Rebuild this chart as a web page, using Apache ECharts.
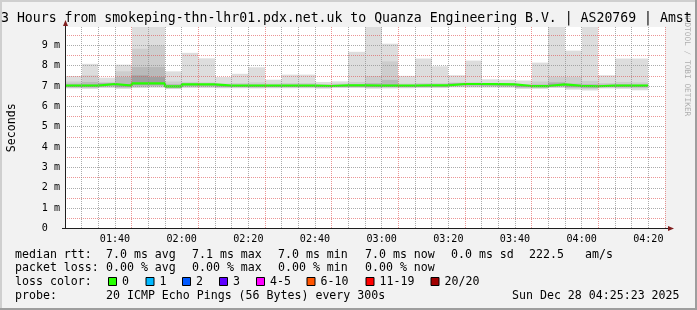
<!DOCTYPE html>
<html><head><meta charset="utf-8">
<script src="https://cdn.jsdelivr.net/npm/echarts@6/dist/echarts.min.js"></script>
<style>html,body{margin:0;padding:0;background:#f2f2f2}#c{width:697px;height:310px}</style>
</head><body><div id="c"></div>
<script>
// ---- data (ms), one value per 5-minute slot ----
const slotTimes = ['01:25','01:30','01:35','01:40','01:45','01:50','01:55','02:00','02:05','02:10','02:15','02:20',
  '02:25','02:30','02:35','02:40','02:45','02:50','02:55','03:00','03:05','03:10','03:15','03:20',
  '03:25','03:30','03:35','03:40','03:45','03:50','03:55','04:00','04:05','04:10','04:15'];
const slotMinutes = 5;
const pingMax = [7.49,8.09,7.41,8.05,11.5,11.5,7.72,8.63,8.36,7.44,7.60,7.92,7.31,7.56,7.56,7.20,7.23,8.68,11.0,9.08,7.50,8.35,7.97,7.53,8.25,7.33,7.31,7.27,8.15,11.0,8.74,11.0,7.53,8.35,8.35];
const pingHi2 = [7.22,7.52,7.20,7.72,8.83,8.99,7.22,7.20,7.18,7.12,7.15,7.18,7.12,7.15,7.15,7.10,7.12,7.20,7.49,8.21,7.12,7.15,7.15,7.18,7.18,7.15,7.15,7.10,7.22,7.45,7.44,7.25,7.15,7.20,7.18];
const pingHi3 = [7.12,7.20,7.15,7.44,7.93,7.93,7.10,7.14,7.12,7.06,7.08,7.08,7.06,7.08,7.08,7.05,7.07,7.10,7.15,7.30,7.06,7.08,7.08,7.14,7.14,7.12,7.12,7.04,7.08,7.20,7.12,7.10,7.08,7.10,7.08];
const pingHi4 = [7.06,7.08,7.12,7.10,7.52,7.44,7.02,7.10,7.10,7.04,7.04,7.05,7.04,7.04,7.04,7.02,7.05,7.05,7.06,7.08,7.04,7.05,7.05,7.12,7.12,7.11,7.10,7.02,7.03,7.12,7.04,7.02,7.04,7.04,7.04];
const pingLo4 = [6.98,6.97,7.03,6.97,7.05,7.06,6.93,7.03,7.03,6.98,6.98,6.97,6.98,6.98,6.98,6.96,6.99,6.99,6.97,6.98,6.98,6.99,6.99,7.05,7.05,7.04,7.03,6.96,6.96,7.03,6.96,6.94,6.98,6.98,6.97];
const pingLo3 = [6.94,6.93,6.98,6.93,6.98,7.00,6.90,6.98,6.98,6.95,6.95,6.94,6.95,6.95,6.95,6.93,6.96,6.96,6.94,6.95,6.95,6.96,6.96,7.00,7.00,7.00,6.99,6.93,6.93,6.98,6.92,6.90,6.95,6.94,6.93];
const pingLo2 = [6.91,6.90,6.94,6.90,6.94,6.96,6.88,6.94,6.94,6.92,6.92,6.91,6.92,6.92,6.92,6.90,6.93,6.93,6.91,6.92,6.92,6.93,6.93,6.96,6.96,6.96,6.95,6.90,6.90,6.94,6.88,6.86,6.92,6.91,6.89];
const pingMin = [6.88,6.86,6.90,6.86,6.90,6.92,6.85,6.90,6.90,6.89,6.89,6.88,6.89,6.89,6.89,6.87,6.90,6.90,6.87,6.88,6.89,6.90,6.90,6.93,6.92,6.92,6.91,6.86,6.86,6.90,6.82,6.78,6.88,6.86,6.79];
const medianRtt = [7.02,7.02,7.10,7.02,7.13,7.13,6.98,7.08,7.08,7.02,7.02,7.02,7.02,7.02,7.02,7.00,7.03,7.03,7.02,7.02,7.02,7.03,7.03,7.10,7.10,7.09,7.08,7.00,7.00,7.08,7.01,6.99,7.02,7.02,7.02];
const axisStart = '01:25', axisEnd = '04:25';
const xTickLabels = ['01:40','02:00','02:20','02:40','03:00','03:20','03:40','04:00','04:20'];
const yTickLabels = ['0','1 m','2 m','3 m','4 m','5 m','6 m','7 m','8 m','9 m'];
const yMax = 9.9;
const titleText = '3 Hours from smokeping-thn-lhr01.pdx.net.uk to Quanza Engineering B.V. | AS20769 | Amst';
const lossBuckets = ['0','1','2','3','4-5','6-10','11-19','20/20'];
const lossColors = ['#26ff00','#00b8ff','#0059ff','#5e00ff','#ff00ff','#ff5500','#ff0000','#a10000'];

// ---- helpers ----
const toMin = s => { const [h,m] = s.split(':').map(Number); return h*60+m; };
const pad2 = n => String(n).padStart(2,'0');
const fmtMin = v => pad2(Math.floor(v/60)) + ':' + pad2(v%60);
const slotStart = slotTimes.map(toMin);
const FONT = 'DejaVu Sans Mono';
const GRID = 'rgba(143,143,143,0.75)';
const MGRID = 'rgba(222,79,79,0.6)';

function smokeLayer(lo, hi, color) {
  return {
    type: 'custom', z: 2, silent: true,
    data: slotStart.map((t, i) => [t, lo[i], hi[i]]),
    encode: { x: 0, y: [1, 2] },
    renderItem: (params, api) => {
      const t = api.value(0);
      const a = api.coord([t, api.value(2)]);
      const b = api.coord([t + slotMinutes, api.value(1)]);
      const cs = params.coordSys;
      const x0 = Math.round(a[0]), x1 = Math.round(b[0]);
      const r = echarts.graphic.clipRectByRect(
        { x: x0, y: a[1], width: x1 - x0, height: b[1] - a[1] },
        { x: cs.x, y: cs.y, width: cs.width, height: cs.height });
      return r ? { type: 'rect', shape: r, style: { fill: color } } : null;
    }
  };
}

const medianPts = slotStart.map((t, i) => [t, medianRtt[i]]);
medianPts.push([slotStart[slotStart.length-1] + slotMinutes, medianRtt[medianRtt.length-1]]);

const chart = echarts.init(document.getElementById('c'), null, { renderer: 'canvas' });
const G = { left: 65, top: 27, width: 600, height: 201.5 };

const txt = (x, y, s, extra) => Object.assign({ type: 'text', x, y, silent: true,
  style: Object.assign({ text: s, font: '11.6px "' + FONT + '"', fill: '#000', verticalAlign: 'middle' }, extra || {}) });

const graphics = [
  // 3D frame
  { type: 'rect', shape: { x: 0, y: 0, width: 697, height: 2 }, style: { fill: '#cfcfcf' }, silent: true },
  { type: 'rect', shape: { x: 0, y: 0, width: 2, height: 310 }, style: { fill: '#cfcfcf' }, silent: true },
  { type: 'rect', shape: { x: 0, y: 308, width: 697, height: 2 }, style: { fill: '#9e9e9e' }, silent: true },
  { type: 'rect', shape: { x: 695, y: 0, width: 2, height: 310 }, style: { fill: '#9e9e9e' }, silent: true },
  // title
  { type: 'text', x: 1, y: 18.5, silent: true, style: { text: titleText, font: '13.2px "' + FONT + '"', fill: '#000', verticalAlign: 'middle' } },
  // watermark
  { type: 'text', x: 687, y: 13, rotation: -Math.PI/2, silent: true, style: { text: 'RRDTOOL / TOBI OETIKER', font: '7.8px "' + FONT + '"', fill: 'rgba(0,0,0,0.3)', verticalAlign: 'middle' } },
  // axis extensions + arrows
  { type: 'line', shape: { x1: 65.5, y1: 27, x2: 65.5, y2: 22 }, style: { stroke: '#1f1f1f', lineWidth: 1 }, silent: true },
  { type: 'line', shape: { x1: 665, y1: 228.5, x2: 670, y2: 228.5 }, style: { stroke: '#1f1f1f', lineWidth: 1 }, silent: true },
  { type: 'line', shape: { x1: 62, y1: 228.5, x2: 65, y2: 228.5 }, style: { stroke: '#1f1f1f', lineWidth: 1 }, silent: true },
  { type: 'polygon', shape: { points: [[63, 26], [68, 26], [65.5, 20]] }, style: { fill: 'rgb(128,31,31)' }, silent: true, z: 10 },
  { type: 'polygon', shape: { points: [[668, 226], [668, 231], [674, 228.5]] }, style: { fill: 'rgb(128,31,31)' }, silent: true, z: 10 },
  // legend lines
  txt(15, 254.5, 'median rtt:'), txt(106, 254.5, '7.0 ms avg'), txt(192, 254.5, '7.1 ms max'), txt(278, 254.5, '7.0 ms min'),
  txt(365, 254.5, '7.0 ms now'), txt(451, 254.5, '0.0 ms sd'), txt(529, 254.5, '222.5'), txt(585, 254.5, 'am/s'),
  txt(15, 268, 'packet loss:'), txt(106, 268, '0.00 % avg'), txt(192, 268, '0.00 % max'), txt(278, 268, '0.00 % min'), txt(365, 268, '0.00 % now'),
  txt(15, 282, 'loss color:'),
  txt(15, 295.5, 'probe:'), txt(106, 295.5, '20 ICMP Echo Pings (56 Bytes) every 300s'), txt(512, 295.5, 'Sun Dec 28 04:25:23 2025')
];
const boxX = [108, 145.5, 182, 219, 256, 306.5, 365.5, 430.5];
lossBuckets.forEach((b, i) => {
  graphics.push({ type: 'rect', shape: { x: boxX[i] + 0.5, y: 277.5, width: 8, height: 8 }, style: { fill: lossColors[i], stroke: '#000', lineWidth: 1 }, silent: true });
  graphics.push(txt(boxX[i] + 14, 282, b));
});

chart.setOption({
  backgroundColor: '#f2f2f2',
  animation: false,
  grid: Object.assign({ show: true, backgroundColor: '#ffffff', borderWidth: 0, containLabel: false, outerBoundsMode: 'none' }, G),
  xAxis: {
    type: 'value', min: toMin(axisStart), max: toMin(axisEnd), interval: 5, z: 5,
    axisLine: { show: true, lineStyle: { color: '#1f1f1f', width: 1 } },
    axisTick: { show: false },
    axisLabel: { interval: 0, margin: 5.5, color: '#000', fontFamily: FONT, fontSize: 10.1,
      formatter: v => xTickLabels.includes(fmtMin(v)) ? fmtMin(v) : '' },
    splitLine: { show: true, showMinLine: false, lineStyle: { color: [GRID, GRID, GRID, MGRID], type: [1, 1], width: 1 } }
  },
  yAxis: {
    type: 'value', min: 0, max: yMax, interval: 0.5, z: 5,
    axisLine: { show: true, lineStyle: { color: '#1f1f1f', width: 1 } },
    axisTick: { show: false },
    axisLabel: { interval: 0, margin: 5, color: '#000', fontFamily: FONT, fontSize: 10.1, showMaxLabel: false,
      formatter: v => Number.isInteger(v) && v < yTickLabels.length ? (v === 0 ? yTickLabels[0] + '  ' : yTickLabels[v]) : '' },
    splitLine: { show: true, showMinLine: false, showMaxLine: false, lineStyle: { color: [MGRID, GRID], type: [1, 1], width: 1 } },
    name: 'Seconds', nameLocation: 'middle', nameGap: 47,
    nameTextStyle: { fontFamily: FONT, fontSize: 11.6, color: '#000' }
  },
  series: [
    smokeLayer(pingMin, pingMax, '#dddddd'),
    smokeLayer(pingLo2, pingHi2, '#cdcdcd'),
    smokeLayer(pingLo3, pingHi3, '#b9b9b9'),
    smokeLayer(pingLo4, pingHi4, '#a0a0a0'),
    { type: 'line', z: 3, step: 'end', symbol: 'none', silent: true, data: medianPts,
      lineStyle: { color: lossColors[0], width: 2.2 } }
  ],
  graphic: graphics
});
</script></body></html>
